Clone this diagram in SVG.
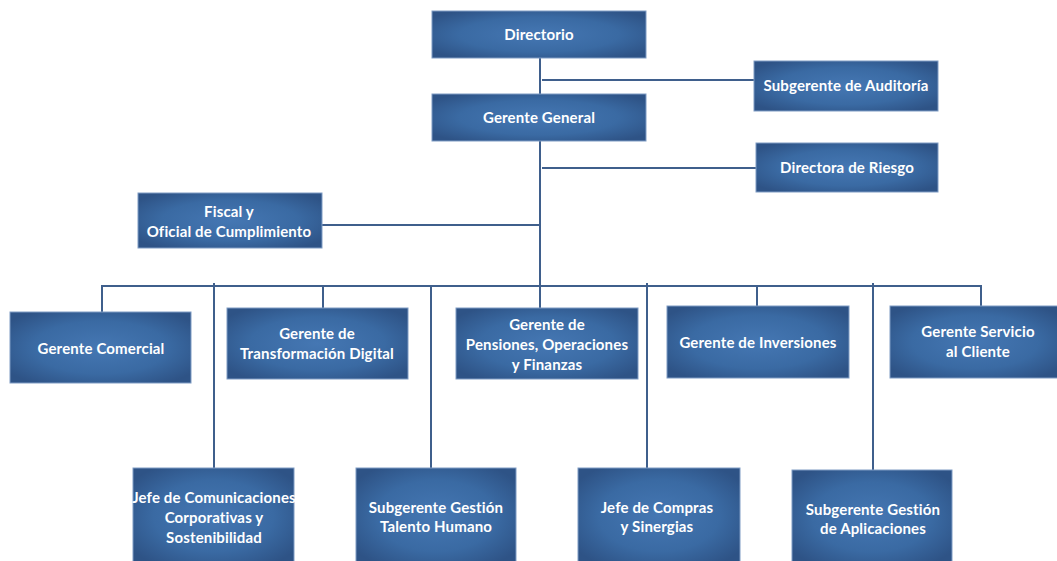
<svg xmlns="http://www.w3.org/2000/svg" width="1057" height="561" viewBox="0 0 1057 561">
  <style>
    .box { fill: url(#boxFill); stroke: #7f9cc4; stroke-width: 1; }
    .lbl { font-family: Lato, "Open Sans", "Liberation Sans", sans-serif; font-weight: bold; font-size: 15px; letter-spacing: 0.15px; fill: #ffffff; text-anchor: middle; }
    .wire { stroke: #3f5f8c; stroke-width: 2; fill: none; }
  </style>
  <defs>
    <radialGradient id="boxFill" cx="0.5" cy="0.5" r="0.62">
      <stop offset="0" stop-color="#4577b3"/>
      <stop offset="0.6" stop-color="#3a6aa3"/>
      <stop offset="1" stop-color="#2e5386"/>
    </radialGradient>
  </defs>
  <rect width="1057" height="561" fill="#ffffff"/>

  <!-- connectors -->
  <g id="connectors">
    <line class="wire" x1="540" y1="58" x2="540" y2="94"/>
    <line class="wire" x1="542" y1="80" x2="754" y2="80"/>
    <line class="wire" x1="540" y1="141" x2="540" y2="308"/>
    <line class="wire" x1="542" y1="168" x2="756" y2="168"/>
    <line class="wire" x1="322" y1="225" x2="540" y2="225"/>
    <!-- distribution bus -->
    <line class="wire" x1="101" y1="286" x2="982" y2="286"/>
    <line class="wire" x1="102" y1="285" x2="102" y2="312"/>
    <line class="wire" x1="323" y1="285" x2="323" y2="308"/>
    <line class="wire" x1="757" y1="285" x2="757" y2="306"/>
    <line class="wire" x1="981" y1="285" x2="981" y2="306"/>
    <!-- long drops to the lower row -->
    <line class="wire" x1="214" y1="283" x2="214" y2="468"/>
    <line class="wire" x1="431" y1="286" x2="431" y2="468"/>
    <line class="wire" x1="647" y1="283" x2="647" y2="468"/>
    <line class="wire" x1="873" y1="283" x2="873" y2="470"/>
  </g>

  <g id="directorio">
    <rect class="box" x="432" y="11" width="214" height="47"/>
    <text class="lbl" x="539" y="40">Directorio</text>
  </g>
  <g id="subgerente-auditoria">
    <rect class="box" x="754" y="61" width="184" height="50"/>
    <text class="lbl" x="846" y="91">Subgerente de Auditoría</text>
  </g>
  <g id="gerente-general">
    <rect class="box" x="432" y="94" width="214" height="47"/>
    <text class="lbl" x="539" y="123">Gerente General</text>
  </g>
  <g id="directora-riesgo">
    <rect class="box" x="756" y="143" width="182" height="49"/>
    <text class="lbl" x="847" y="173">Directora de Riesgo</text>
  </g>
  <g id="fiscal">
    <rect class="box" x="138" y="193" width="184" height="55"/>
    <text class="lbl" x="229" y="217">Fiscal y</text>
    <text class="lbl" x="229" y="237">Oficial de Cumplimiento</text>
  </g>

  <g id="gerente-comercial">
    <rect class="box" x="10" y="312" width="181" height="71"/>
    <text class="lbl" x="101" y="354">Gerente Comercial</text>
  </g>
  <g id="gerente-transformacion">
    <rect class="box" x="227" y="308" width="181" height="71"/>
    <text class="lbl" x="317" y="339">Gerente de</text>
    <text class="lbl" x="317" y="359">Transformación Digital</text>
  </g>
  <g id="gerente-pensiones">
    <rect class="box" x="456" y="308" width="182" height="71"/>
    <text class="lbl" x="547" y="330">Gerente de</text>
    <text class="lbl" x="547" y="350">Pensiones, Operaciones</text>
    <text class="lbl" x="547" y="370">y Finanzas</text>
  </g>
  <g id="gerente-inversiones">
    <rect class="box" x="667" y="306" width="182" height="72"/>
    <text class="lbl" x="758" y="348">Gerente de Inversiones</text>
  </g>
  <g id="gerente-servicio">
    <rect class="box" x="890" y="306" width="170" height="72"/>
    <text class="lbl" x="978" y="337">Gerente Servicio</text>
    <text class="lbl" x="978" y="357">al Cliente</text>
  </g>

  <g id="jefe-comunicaciones">
    <rect class="box" x="133" y="468" width="161" height="96"/>
    <text class="lbl" x="214" y="503">Jefe de Comunicaciones</text>
    <text class="lbl" x="214" y="523">Corporativas y</text>
    <text class="lbl" x="214" y="543">Sostenibilidad</text>
  </g>
  <g id="subgerente-talento">
    <rect class="box" x="356" y="468" width="160" height="96"/>
    <text class="lbl" x="436" y="513">Subgerente Gestión</text>
    <text class="lbl" x="436" y="532">Talento Humano</text>
  </g>
  <g id="jefe-compras">
    <rect class="box" x="578" y="468" width="162" height="96"/>
    <text class="lbl" x="657" y="513">Jefe de Compras</text>
    <text class="lbl" x="657" y="532">y Sinergias</text>
  </g>
  <g id="subgerente-aplicaciones">
    <rect class="box" x="792" y="470" width="160" height="94"/>
    <text class="lbl" x="873" y="515">Subgerente Gestión</text>
    <text class="lbl" x="873" y="534">de Aplicaciones</text>
  </g>
</svg>
